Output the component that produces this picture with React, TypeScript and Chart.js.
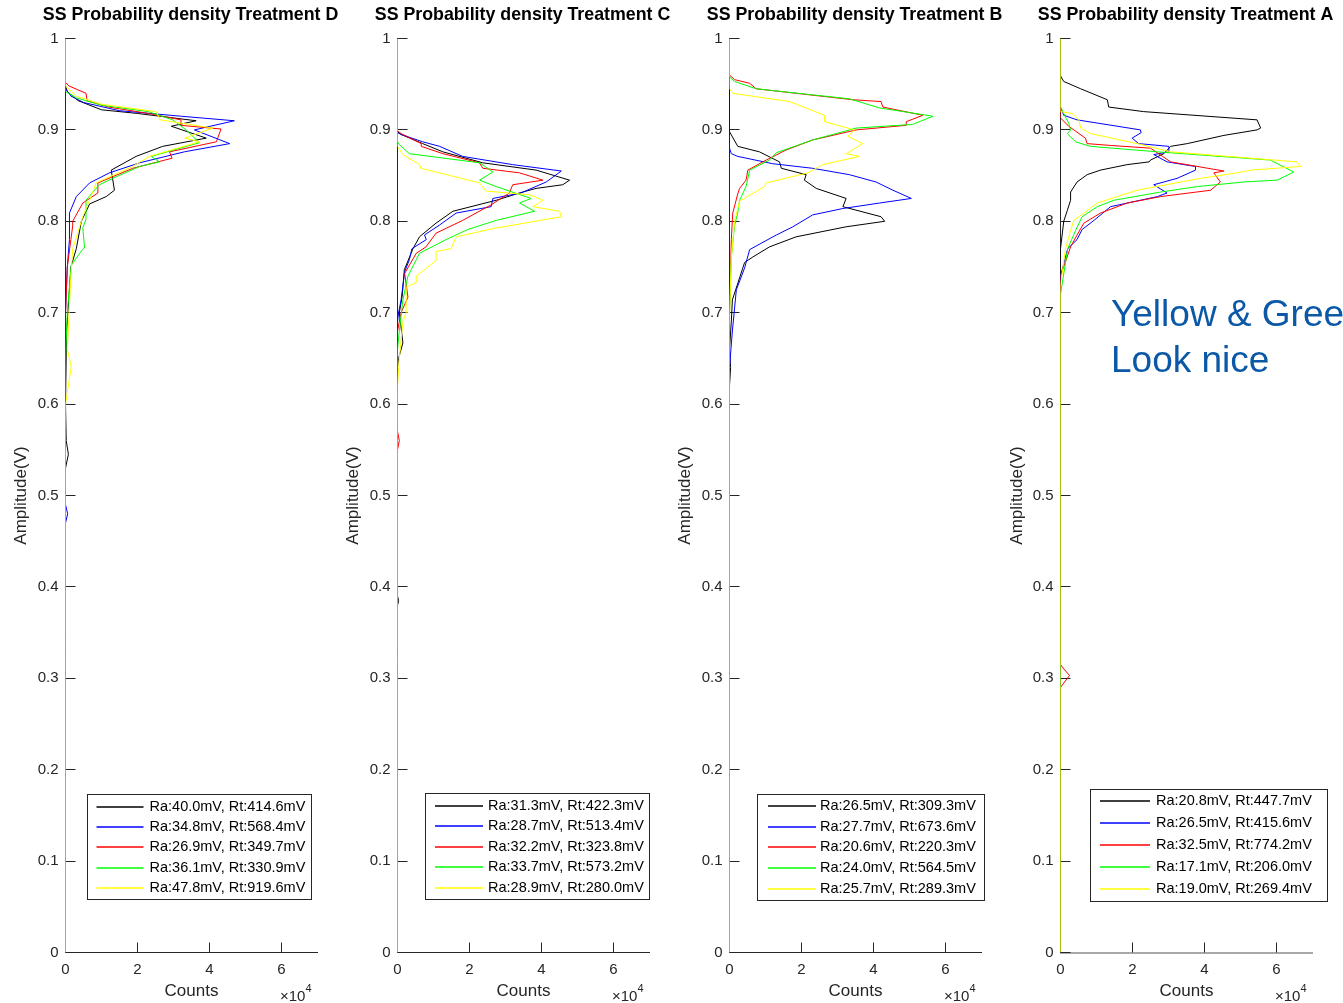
import React, { useEffect, useRef } from "react";
import { Chart, registerables } from "chart.js";

Chart.register(...registerables);
Chart.defaults.font.family = "'Liberation Sans', Arial, Helvetica, sans-serif";

// ---------- shared axis data ----------
const SERIES_COLORS = ["#000000", "#0000ff", "#ff0000", "#00ff00", "#ffff00"];
const Y_TICKS = [0, 0.1, 0.2, 0.3, 0.4, 0.5, 0.6, 0.7, 0.8, 0.9, 1];
const X_TICKS = [0, 2, 4, 6];
const X_MIN = 0;
const X_MAX = 7;
const Y_MIN = 0;
const Y_MAX = 1;
const X_TITLE = "Counts";
const Y_TITLE = "Amplitude(V)";
const X_EXPONENT = "4";

const TITLES = [
  "SS Probability density Treatment D",
  "SS Probability density Treatment C",
  "SS Probability density Treatment B",
  "SS Probability density Treatment A",
];

const ANNOTATION_LINES = ["Yellow & Gree", "Look nice"];

// ---------- series: [counts (x1e4), amplitude V] ----------
// Treatment D
const D_BLACK = [[0,0],[0,0.53],[0.08,0.545],[0.02,0.56],[0,0.6],[0.03,0.68],[0.1,0.72],[0.15,0.75],[0.3,0.77],[0.44,0.8],[0.67,0.819],[1.13,0.827],[1.36,0.834],[1.27,0.856],[1.96,0.871],[2.7,0.882],[3.91,0.891],[2.94,0.904],[3.63,0.91],[2.0,0.918],[1.0,0.922],[0.35,0.932],[0.05,0.942],[0,0.948],[0,1]];
const D_BLUE = [[0,0],[0,0.47],[0.06,0.48],[0,0.49],[0,0.7],[0.05,0.75],[0.11,0.78],[0.11,0.809],[0.3,0.827],[0.67,0.842],[1.22,0.853],[2.06,0.864],[3.3,0.876],[4.56,0.885],[3.58,0.9],[4.69,0.91],[3.2,0.915],[1.5,0.921],[0.5,0.93],[0.15,0.937],[0,0.945],[0,1]];
const D_RED = [[0,0],[0,0.7],[0.05,0.75],[0.15,0.78],[0.2,0.795],[0.2,0.8],[0.48,0.82],[0.9,0.831],[0.9,0.842],[1.87,0.858],[2.96,0.869],[2.89,0.876],[4.19,0.887],[4.32,0.901],[3.2,0.905],[3.21,0.911],[2.3,0.918],[1.2,0.925],[0.6,0.932],[0.57,0.94],[0.1,0.948],[0,0.952],[0,1]];
const D_GREEN = [[0,0],[0,0.65],[0.05,0.7],[0.16,0.752],[0.47,0.769],[0.53,0.771],[0.48,0.793],[0.57,0.802],[0.57,0.823],[0.94,0.84],[1.31,0.847],[2.06,0.86],[2.61,0.865],[2.38,0.871],[3.72,0.886],[3.35,0.9],[2.98,0.911],[2.3,0.92],[1.0,0.927],[0.3,0.935],[0,0.942],[0,1]];
const D_YELLOW = [[0,0],[0,0.6],[0.16,0.641],[0.05,0.66],[0.1,0.7],[0.15,0.74],[0.2,0.77],[0.48,0.805],[0.71,0.827],[0.85,0.842],[1.86,0.86],[2.33,0.871],[3.72,0.887],[3.31,0.891],[4.09,0.902],[2.63,0.911],[2.52,0.92],[1.0,0.928],[0.3,0.937],[0,0.948],[0,1]];

// Treatment C
const C_BLACK = [[0,0],[0,0.38],[0.03,0.385],[0,0.39],[0,0.64],[0.03,0.65],[0.15,0.667],[0.05,0.7],[0.13,0.718],[0.19,0.747],[0.43,0.77],[0.61,0.783],[1.07,0.798],[1.54,0.811],[2.74,0.823],[3.39,0.831],[3.85,0.836],[4.59,0.84],[4.78,0.845],[3.85,0.856],[2.37,0.864],[1.26,0.876],[0.7,0.885],[0.1,0.895],[0,0.898],[0,1]];
const C_BLUE = [[0,0],[0,0.69],[0.03,0.7],[0.1,0.714],[0.2,0.745],[0.33,0.758],[0.4,0.77],[0.8,0.78],[0.75,0.785],[1.17,0.796],[1.63,0.809],[2.6,0.816],[2.65,0.825],[3.43,0.831],[4.13,0.843],[4.55,0.855],[3.2,0.862],[1.81,0.871],[1.17,0.882],[0.7,0.887],[0.1,0.895],[0,0.897],[0,1]];
const C_RED = [[0,0],[0,0.55],[0.05,0.56],[0,0.57],[0,0.68],[0.1,0.7],[0.29,0.717],[0.2,0.743],[0.52,0.765],[0.79,0.772],[1.07,0.787],[1.81,0.801],[2.6,0.818],[3.11,0.831],[3.2,0.84],[4.04,0.845],[3.39,0.853],[2.37,0.858],[2.28,0.864],[1.26,0.874],[0.66,0.882],[0.66,0.885],[0.1,0.896],[0,0.899],[0,1]];
const C_GREEN = [[0,0],[0,0.66],[0.05,0.68],[0.15,0.714],[0.29,0.74],[0.61,0.765],[1.35,0.78],[1.95,0.791],[2.74,0.801],[3.81,0.811],[3.39,0.82],[3.71,0.825],[2.74,0.838],[2.28,0.845],[2.65,0.854],[2.28,0.864],[0.33,0.874],[0.05,0.884],[0,0.887],[0,1]];
const C_YELLOW = [[0,0],[0,0.62],[0.05,0.65],[0.15,0.69],[0.24,0.7],[0.24,0.728],[0.52,0.733],[0.52,0.74],[1.07,0.757],[1.07,0.767],[1.49,0.77],[1.63,0.783],[2.65,0.792],[4.55,0.805],[4.5,0.811],[3.76,0.816],[4.04,0.823],[3.67,0.829],[2.46,0.833],[2.28,0.842],[0.65,0.858],[0.61,0.862],[0.15,0.873],[0,0.882],[0,1]];

// Treatment B
const B_BLACK = [[0,0],[0,0.62],[0.03,0.64],[0,0.66],[0.05,0.69],[0.08,0.714],[0.42,0.755],[0.65,0.761],[1.11,0.772],[1.85,0.783],[3.24,0.794],[4.31,0.8],[4.21,0.805],[3.15,0.816],[3.24,0.825],[2.41,0.836],[2.08,0.845],[2.13,0.851],[1.44,0.858],[1.39,0.865],[0.83,0.876],[0.23,0.882],[0,0.898],[0,1]];
const B_BLUE = [[0,0],[0,0.64],[0.08,0.68],[0.19,0.725],[0.42,0.749],[0.56,0.769],[0.88,0.776],[1.3,0.785],[1.76,0.794],[2.31,0.807],[3.15,0.814],[4.17,0.82],[5.05,0.825],[4.54,0.834],[4.07,0.843],[3.33,0.851],[2.31,0.858],[1.2,0.863],[0.23,0.871],[0.05,0.874],[0,0.88],[0,0.945],[0,1]];
const B_RED = [[0,0],[0,0.7],[0.05,0.78],[0.09,0.809],[0.23,0.83],[0.28,0.836],[0.46,0.845],[0.51,0.856],[1.02,0.867],[1.57,0.878],[2.31,0.889],[3.52,0.9],[4.91,0.905],[4.91,0.909],[5.37,0.916],[4.26,0.925],[4.21,0.931],[3.43,0.933],[0.74,0.945],[0.56,0.951],[0.14,0.955],[0,0.96],[0,1]];
const B_GREEN = [[0,0],[0,0.7],[0.05,0.76],[0.14,0.795],[0.23,0.81],[0.28,0.823],[0.46,0.838],[0.56,0.856],[1.11,0.867],[1.3,0.875],[2.31,0.889],[3.52,0.902],[5.09,0.906],[5.65,0.915],[4.17,0.924],[3.33,0.934],[0.74,0.945],[0.14,0.953],[0,0.958],[0,1]];
const B_YELLOW = [[0,0],[0,0.7],[0.05,0.76],[0.14,0.8],[0.28,0.822],[0.97,0.838],[1.02,0.842],[2.18,0.853],[2.59,0.862],[3.61,0.871],[3.24,0.874],[3.7,0.885],[3.29,0.893],[3.47,0.9],[2.64,0.909],[2.64,0.916],[1.67,0.931],[0.09,0.94],[0,0.945],[0,1]];

// Treatment A
const A_BLACK = [[0,0],[0,0.77],[0.09,0.8],[0.19,0.812],[0.28,0.823],[0.28,0.832],[0.46,0.843],[0.74,0.851],[1.11,0.856],[1.85,0.862],[2.46,0.865],[2.5,0.867],[2.87,0.874],[3.06,0.882],[3.52,0.885],[4.54,0.894],[5.46,0.9],[5.56,0.902],[5.46,0.911],[2.31,0.92],[1.34,0.925],[1.3,0.933],[0.56,0.945],[0.09,0.953],[0,0.959],[0,1]];
const A_BLUE = [[0,0],[0,0.74],[0.2,0.77],[0.46,0.78],[0.6,0.791],[0.93,0.801],[1.39,0.816],[2.69,0.827],[2.96,0.831],[2.59,0.84],[3.24,0.847],[3.75,0.856],[3.75,0.86],[2.96,0.865],[2.59,0.873],[3.01,0.876],[3.01,0.882],[2.17,0.885],[1.99,0.891],[2.24,0.897],[2.22,0.9],[0.46,0.911],[0.09,0.916],[0,0.925],[0,1]];
const A_RED = [[0,0],[0,0.29],[0.25,0.303],[0.1,0.31],[0,0.315],[0,0.74],[0.28,0.772],[0.46,0.785],[0.65,0.798],[1.11,0.809],[1.85,0.82],[2.78,0.827],[4.17,0.834],[4.44,0.843],[4.26,0.853],[4.54,0.855],[3.06,0.865],[2.5,0.88],[1.39,0.883],[0.74,0.885],[0.69,0.891],[0.23,0.904],[0,0.913],[0,1]];
const A_GREEN = [[0,0],[0,0.72],[0.2,0.77],[0.42,0.79],[0.6,0.805],[1.02,0.816],[1.48,0.823],[2.78,0.832],[3.8,0.838],[5.09,0.843],[6.02,0.845],[6.48,0.854],[5.83,0.867],[2.69,0.876],[0.83,0.882],[0.42,0.887],[0.19,0.896],[0.28,0.9],[0.23,0.907],[0,0.925],[0,1]];
const A_YELLOW = [[0,0],[0,0.73],[0.14,0.77],[0.28,0.79],[0.37,0.801],[1.02,0.82],[2.13,0.834],[3.89,0.847],[4.91,0.853],[5.28,0.856],[6.67,0.86],[6.57,0.865],[3.06,0.876],[2.13,0.885],[0.83,0.896],[0.56,0.902],[0.51,0.911],[0.32,0.918],[0,0.92],[0,1]];

// ---------- legend labels ----------
const LEGEND_D = ["Ra:40.0mV, Rt:414.6mV", "Ra:34.8mV, Rt:568.4mV", "Ra:26.9mV, Rt:349.7mV", "Ra:36.1mV, Rt:330.9mV", "Ra:47.8mV, Rt:919.6mV"];
const LEGEND_C = ["Ra:31.3mV, Rt:422.3mV", "Ra:28.7mV, Rt:513.4mV", "Ra:32.2mV, Rt:323.8mV", "Ra:33.7mV, Rt:573.2mV", "Ra:28.9mV, Rt:280.0mV"];
const LEGEND_B = ["Ra:26.5mV, Rt:309.3mV", "Ra:27.7mV, Rt:673.6mV", "Ra:20.6mV, Rt:220.3mV", "Ra:24.0mV, Rt:564.5mV", "Ra:25.7mV, Rt:289.3mV"];
const LEGEND_A = ["Ra:20.8mV, Rt:447.7mV", "Ra:26.5mV, Rt:415.6mV", "Ra:32.5mV, Rt:774.2mV", "Ra:17.1mV, Rt:206.0mV", "Ra:19.0mV, Rt:269.4mV"];

// ---------- layout (page pixel positions) ----------
const PAGE_W = 1343;
const PAGE_H = 1003;
const AREA_TOP = 38.5;
const X_AXIS_H = 50.5;
const AREA_W = 252;

const PANELS = [
  { title: TITLES[0], series: [D_BLACK, D_BLUE, D_RED, D_GREEN, D_YELLOW], labels: LEGEND_D, left: 0, width: 346, axisW: 65.5,
    legend: { l: 86.5, t: 794, r: 310, b: 899, s0: 10, s1: 57, tx: 63 }, note: false, xBorder: "#262626", xBorderW: 1 },
  { title: TITLES[1], series: [C_BLACK, C_BLUE, C_RED, C_GREEN, C_YELLOW], labels: LEGEND_C, left: 332, width: 346, axisW: 65.5,
    legend: { l: 425, t: 793, r: 648.5, b: 898.5, s0: 10, s1: 58, tx: 63 }, note: false, xBorder: "#262626", xBorderW: 1 },
  { title: TITLES[2], series: [B_BLACK, B_BLUE, B_RED, B_GREEN, B_YELLOW], labels: LEGEND_B, left: 664, width: 346, axisW: 65.5,
    legend: { l: 756.5, t: 793.5, r: 983.5, b: 899.5, s0: 11.5, s1: 59.5, tx: 63.5 }, note: false, xBorder: "#262626", xBorderW: 1 },
  { title: TITLES[3], series: [A_BLACK, A_BLUE, A_RED, A_GREEN, A_YELLOW], labels: LEGEND_A, left: 996, width: 347, axisW: 64.5,
    legend: { l: 1089.5, t: 788.5, r: 1326, b: 900, s0: 10.5, s1: 60.5, tx: 66.5 }, note: true, xBorder: "#a8a8a8", xBorderW: 2 },
];

const FONT = "'Liberation Sans', Arial, Helvetica, sans-serif";
const AXIS_COLOR = "#262626";

function Panel({ p }: { p: any }) {
  const ref = useRef<HTMLCanvasElement>(null);

  useEffect(() => {
    const canvas = ref.current;
    if (!canvas) return;

    const decor = {
      id: "decor",
      beforeDatasetsDraw(chart: any) {
        const ctx = chart.ctx;
        const xs = chart.scales.x;
        const ys = chart.scales.y;
        const a = chart.chartArea;
        ctx.save();
        ctx.strokeStyle = AXIS_COLOR;
        ctx.lineWidth = 1;
        ctx.beginPath();
        for (const v of Y_TICKS) {
          const py = Math.round(ys.getPixelForValue(v) - 0.5) + 0.5;
          ctx.moveTo(a.left, py);
          ctx.lineTo(a.left + 10, py);
        }
        for (const v of X_TICKS) {
          const px = Math.round(xs.getPixelForValue(v) - 0.5) + 0.5;
          ctx.moveTo(px, a.bottom);
          ctx.lineTo(px, a.bottom - 10);
        }
        ctx.stroke();
        ctx.restore();
      },
      afterDraw(chart: any) {
        const ctx = chart.ctx;
        const a = chart.chartArea;
        ctx.save();
        // title
        ctx.fillStyle = "#000000";
        ctx.font = `bold 17.8px ${FONT}`;
        ctx.textAlign = "center";
        ctx.textBaseline = "alphabetic";
        ctx.fillText(p.title, (a.left + a.right) / 2 - 1, 20);

        // x10^4
        ctx.fillStyle = AXIS_COLOR;
        ctx.textAlign = "left";
        ctx.font = `15px ${FONT}`;
        ctx.fillText("\u00d710", a.right - 37.5, 1001);
        ctx.font = `11px ${FONT}`;
        ctx.fillText(X_EXPONENT, a.right - 12, 992);

        // legend
        const L = p.legend;
        const l = L.l - p.left;
        const r = L.r - p.left;
        const t = L.t;
        const b = L.b;
        ctx.fillStyle = "#ffffff";
        ctx.fillRect(l, t, r - l, b - t);
        ctx.strokeStyle = AXIS_COLOR;
        ctx.lineWidth = 1;
        ctx.strokeRect(Math.round(l) + 0.5, Math.round(t) + 0.5, Math.round(r - l), Math.round(b - t));
        const n = p.labels.length;
        ctx.font = `14.5px ${FONT}`;
        ctx.textBaseline = "middle";
        for (let i = 0; i < n; i++) {
          const y = t + 12.5 + (i * (b - t - 23.5)) / (n - 1);
          const yy = Math.round(y);
          ctx.strokeStyle = SERIES_COLORS[i];
          ctx.lineWidth = 1.6;
          ctx.beginPath();
          ctx.moveTo(l + L.s0, yy);
          ctx.lineTo(l + L.s1, yy);
          ctx.stroke();
          ctx.fillStyle = "#000000";
          ctx.fillText(p.labels[i], l + L.tx, y);
        }

        // annotation
        if (p.note) {
          ctx.fillStyle = "#0b58a6";
          ctx.font = `37px ${FONT}`;
          ctx.textBaseline = "alphabetic";
          ctx.textAlign = "left";
          ctx.fillText(ANNOTATION_LINES[0], 1111 - p.left, 325.5);
          ctx.fillText(ANNOTATION_LINES[1], 1111 - p.left, 371.5);
        }
        ctx.restore();
      },
    };

    const chart = new Chart(canvas, {
      type: "scatter",
      data: {
        datasets: p.series.map((s: number[][], i: number) => ({
          label: p.labels[i],
          data: s.map(([x, y]) => ({ x, y })),
          showLine: true,
          borderColor: SERIES_COLORS[i],
          backgroundColor: SERIES_COLORS[i],
          borderWidth: 1,
          pointRadius: 0,
          pointHoverRadius: 0,
          tension: 0,
          order: p.series.length - i,
        })),
      },
      options: {
        responsive: false,
        animation: false,
        devicePixelRatio: 1,
        events: [],
        layout: { padding: { left: 0, top: AREA_TOP, right: p.width - p.axisW - AREA_W, bottom: 0 } },
        plugins: {
          legend: { display: false },
          tooltip: { enabled: false },
          title: { display: false },
        },
        scales: {
          x: {
            type: "linear",
            min: X_MIN,
            max: X_MAX,
            afterBuildTicks: (s: any) => { s.ticks = X_TICKS.map((v) => ({ value: v })); },
            afterFit: (s: any) => { s.height = X_AXIS_H; },
            grid: { display: false, drawTicks: false },
            border: { display: true, color: p.xBorder, width: p.xBorderW },
            ticks: { padding: 8, color: AXIS_COLOR, font: { size: 15 }, maxRotation: 0, callback: (v: any) => String(v) },
            title: { display: true, text: X_TITLE, color: AXIS_COLOR, font: { size: 17 }, padding: { top: 0, bottom: 1 } },
          },
          y: {
            type: "linear",
            min: Y_MIN,
            max: Y_MAX,
            afterBuildTicks: (s: any) => { s.ticks = Y_TICKS.map((v) => ({ value: v })); },
            afterFit: (s: any) => { s.width = p.axisW; },
            grid: { display: false, drawTicks: false },
            border: { display: true, color: AXIS_COLOR, width: 1 },
            ticks: { padding: 7, color: AXIS_COLOR, font: { size: 15 }, callback: (v: any) => String(Math.round(v * 10) / 10) },
            title: { display: true, text: Y_TITLE, color: AXIS_COLOR, font: { size: 17 }, padding: { top: 11.5, bottom: 0 } },
          },
        },
      },
      plugins: [decor],
    } as any);

    return () => chart.destroy();
  }, [p]);

  return (
    <canvas
      ref={ref}
      width={p.width}
      height={PAGE_H}
      style={{ position: "absolute", left: p.left, top: 0, width: p.width, height: PAGE_H }}
    />
  );
}

export default function App() {
  return (
    <div style={{ position: "fixed", left: 0, top: 0, width: PAGE_W, height: PAGE_H, overflow: "hidden", background: "#ffffff" }}>
      {PANELS.map((p, i) => (
        <Panel key={i} p={p} />
      ))}
    </div>
  );
}
